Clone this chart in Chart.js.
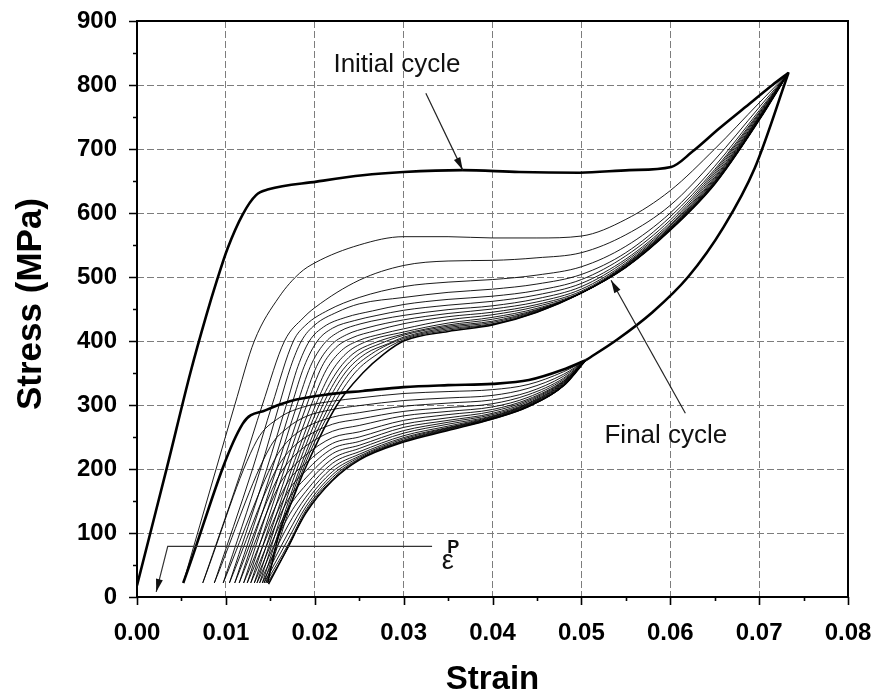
<!DOCTYPE html>
<html>
<head>
<meta charset="utf-8">
<script src="https://cdn.jsdelivr.net/npm/chart.js@4.4.1/dist/chart.umd.min.js"></script>
<style>
  html, body { margin: 0; padding: 0; background: #fff; }
  canvas { display: block; }
</style>
</head>
<body>
<canvas id="chart" width="875" height="695"></canvas>
<script>
// Cyclic superelastic stress-strain response: strain (-), stress (MPa)

const xTickValues = [0, 0.01, 0.02, 0.03, 0.04, 0.05, 0.06, 0.07, 0.08];
const yTickValues = [0, 100, 200, 300, 400, 500, 600, 700, 800, 900];

// First cycle: loading branch and lower (reverse transformation) branch
const initialLoading = [
  [0.0000, 18], [0.0015, 100], [0.0034, 204], [0.0060, 350], [0.0078, 440],
  [0.0090, 495], [0.0102, 545], [0.0119, 598], [0.0134, 628], [0.0148, 637],
  [0.0202, 649], [0.0254, 659], [0.0300, 664], [0.0366, 667], [0.0430, 664],
  [0.0498, 663], [0.0554, 667], [0.0601, 672], [0.0625, 696], [0.0655, 732],
  [0.0685, 766], [0.0715, 800], [0.0733, 819]
];
const initialUnloading = [
  [0.0052, 22], [0.0119, 271], [0.0145, 292], [0.0172, 306], [0.0217, 317],
  [0.0254, 322], [0.0300, 328], [0.0350, 331], [0.0400, 333], [0.0441, 339],
  [0.0479, 355], [0.0505, 370]
];
// Upper part of the unloading path, common to every cycle
const sharedUnloading = [
  [0.0505, 370], [0.0540, 402], [0.0580, 445], [0.0620, 500], [0.0660, 578],
  [0.0695, 670], [0.0733, 819]
];

// Loading branches of cycles 2 .. last
const loadingCycles = [
  [[0.0052,22],[0.0089,200],[0.0110,300],[0.0132,400],[0.0160,469],[0.0183,506],[0.0200,522],[0.0250,550],[0.0300,563],[0.0350,563],[0.0400,561],[0.0450,561],[0.0500,564],[0.0550,590],[0.0600,635],[0.0650,700],[0.0700,772],[0.0733,819]],
  [[0.0074,22],[0.0118,200],[0.0141,300],[0.0166,400],[0.0187,436],[0.0200,452],[0.0250,495],[0.0300,518],[0.0350,525],[0.0400,526],[0.0450,530],[0.0500,538],[0.0550,566],[0.0600,612],[0.0650,683],[0.0700,765],[0.0733,819]],
  [[0.0087,22],[0.0130,200],[0.0152,300],[0.0176,400],[0.0190,425],[0.0215,448],[0.0250,468],[0.0300,485],[0.0350,492],[0.0400,496],[0.0450,503],[0.0500,516],[0.0550,548],[0.0600,600],[0.0650,673],[0.0700,760],[0.0733,819]],
  [[0.0097,22],[0.0139,200],[0.0160,300],[0.0173,360],[0.0185,400],[0.0200,425],[0.0225,445],[0.0250,458],[0.0300,468],[0.0350,476],[0.0400,481],[0.0450,489],[0.0500,504],[0.0550,538],[0.0600,594],[0.0650,668],[0.0700,757],[0.0733,819]],
  [[0.0104,22],[0.0146,200],[0.0168,300],[0.0181,360],[0.0194,400],[0.0210,422],[0.0235,437],[0.0265,447],[0.0300,457],[0.0350,465],[0.0400,470],[0.0450,479],[0.0500,496],[0.0550,533],[0.0600,589],[0.0650,665],[0.0700,755],[0.0733,819]],
  [[0.0110,22],[0.0152,200],[0.0174,300],[0.0188,360],[0.0203,400],[0.0220,420],[0.0245,432],[0.0270,440],[0.0300,448],[0.0350,456],[0.0400,462],[0.0450,472],[0.0500,490],[0.0550,528],[0.0600,585],[0.0650,662],[0.0700,753],[0.0733,819]],
  [[0.0115,22],[0.0157,200],[0.0180,300],[0.0195,360],[0.0210,395],[0.0228,415],[0.0252,427],[0.0275,434],[0.0300,440],[0.0350,449],[0.0400,455],[0.0450,466],[0.0500,485],[0.0550,525],[0.0600,582],[0.0650,659],[0.0700,751],[0.0733,819]],
  [[0.0120,22],[0.0162,200],[0.0186,300],[0.0202,360],[0.0218,393],[0.0236,410],[0.0260,421],[0.0300,433],[0.0350,443],[0.0400,450],[0.0450,461],[0.0500,481],[0.0550,522],[0.0600,580],[0.0650,656],[0.0700,750],[0.0733,819]],
  [[0.0124,22],[0.0166,200],[0.0191,300],[0.0208,360],[0.0224,390],[0.0242,405],[0.0268,416],[0.0300,427],[0.0350,438],[0.0400,445],[0.0450,457],[0.0500,478],[0.0550,520],[0.0600,578],[0.0650,654],[0.0700,749],[0.0733,819]],
  [[0.0128,22],[0.0170,200],[0.0196,300],[0.0213,355],[0.0230,385],[0.0250,401],[0.0275,411],[0.0300,419],[0.0350,433],[0.0400,441],[0.0450,454],[0.0500,476],[0.0550,519],[0.0600,577],[0.0650,652],[0.0700,748],[0.0733,819]],
  [[0.0132,22],[0.0174,200],[0.0201,300],[0.0218,350],[0.0235,380],[0.0256,398],[0.0300,414],[0.0350,428],[0.0400,437],[0.0450,451],[0.0500,475],[0.0550,518],[0.0600,576],[0.0650,650],[0.0700,747],[0.0733,819]],
  [[0.0135,22],[0.0177,200],[0.0205,300],[0.0224,350],[0.0243,380],[0.0265,396],[0.0300,411],[0.0350,425],[0.0400,434],[0.0450,449],[0.0500,475],[0.0550,517],[0.0600,575],[0.0650,649],[0.0700,747],[0.0733,819]],
  [[0.0138,22],[0.0180,200],[0.0209,300],[0.0229,350],[0.0250,380],[0.0274,396],[0.0300,409],[0.0350,423],[0.0400,431],[0.0450,448],[0.0500,475],[0.0550,516],[0.0600,575],[0.0650,648],[0.0700,746],[0.0733,819]],
  [[0.0141,22],[0.0183,200],[0.0213,300],[0.0234,350],[0.0257,380],[0.0283,396],[0.0300,406],[0.0350,421],[0.0400,429],[0.0450,447],[0.0500,475],[0.0550,516],[0.0600,574],[0.0650,647],[0.0700,746],[0.0733,819]],
  [[0.0143,22],[0.0185,200],[0.0217,300],[0.0239,350],[0.0264,380],[0.0300,404],[0.0350,419],[0.0400,427],[0.0450,446],[0.0500,475],[0.0550,515],[0.0600,574],[0.0650,646],[0.0700,745],[0.0733,819]],
  [[0.0145,22],[0.0187,200],[0.0221,300],[0.0245,350],[0.0271,380],[0.0300,402],[0.0350,417],[0.0400,426],[0.0450,445],[0.0500,475],[0.0550,515],[0.0600,573],[0.0650,645],[0.0700,745],[0.0733,819]],
  [[0.0147,22],[0.0160,100],[0.0175,152],[0.0189,200],[0.0225,300],[0.0254,350],[0.0278,380],[0.0300,400],[0.0350,415],[0.0400,425],[0.0450,445],[0.0500,475],[0.0550,515],[0.0600,573],[0.0650,645],[0.0700,745],[0.0733,819]]
];

// Lower branches of cycles 2 .. last, from the residual strain up to the merge point
const unloadingCycles = [
  [[0.0074,22],[0.0135,245],[0.0160,280],[0.0190,298],[0.0220,306],[0.0250,311],[0.0300,318],[0.0350,321],[0.0400,324],[0.0440,332],[0.0480,352],[0.0505,370]],
  [[0.0087,22],[0.0150,235],[0.0170,265],[0.0190,282],[0.0220,293],[0.0250,299],[0.0300,307],[0.0350,311],[0.0400,315],[0.0440,326],[0.0480,348],[0.0505,370]],
  [[0.0097,22],[0.0155,215],[0.0170,244],[0.0190,265],[0.0220,281],[0.0250,288],[0.0300,298],[0.0350,303],[0.0400,308],[0.0440,320],[0.0480,345],[0.0505,370]],
  [[0.0104,22],[0.0155,195],[0.0170,226],[0.0190,250],[0.0220,270],[0.0250,278],[0.0300,290],[0.0350,296],[0.0400,302],[0.0440,316],[0.0480,342],[0.0505,370]],
  [[0.0110,22],[0.0158,185],[0.0170,210],[0.0190,236],[0.0220,259],[0.0250,268],[0.0300,283],[0.0350,290],[0.0400,297],[0.0440,312],[0.0480,340],[0.0505,370]],
  [[0.0115,22],[0.0160,175],[0.0170,195],[0.0190,222],[0.0220,249],[0.0250,258],[0.0300,276],[0.0350,285],[0.0400,293],[0.0440,309],[0.0480,338],[0.0505,370]],
  [[0.0120,22],[0.0170,180],[0.0190,209],[0.0220,240],[0.0250,250],[0.0300,270],[0.0350,280],[0.0400,290],[0.0440,307],[0.0480,337],[0.0505,370]],
  [[0.0124,22],[0.0170,165],[0.0190,197],[0.0220,232],[0.0250,243],[0.0300,265],[0.0350,276],[0.0400,287],[0.0440,305],[0.0480,336],[0.0505,370]],
  [[0.0128,22],[0.0170,152],[0.0190,186],[0.0220,224],[0.0250,237],[0.0300,260],[0.0350,273],[0.0400,285],[0.0440,303],[0.0480,335],[0.0505,370]],
  [[0.0132,22],[0.0170,138],[0.0190,175],[0.0220,216],[0.0250,232],[0.0300,256],[0.0350,270],[0.0400,283],[0.0440,302],[0.0480,334],[0.0505,370]],
  [[0.0135,22],[0.0170,125],[0.0190,165],[0.0220,209],[0.0250,227],[0.0300,252],[0.0350,267],[0.0400,282],[0.0440,301],[0.0480,333],[0.0505,370]],
  [[0.0138,22],[0.0170,112],[0.0190,156],[0.0220,202],[0.0250,223],[0.0300,249],[0.0350,265],[0.0400,281],[0.0440,300],[0.0480,332],[0.0505,370]],
  [[0.0141,22],[0.0170,100],[0.0190,148],[0.0220,196],[0.0250,220],[0.0300,247],[0.0350,264],[0.0400,280],[0.0440,299],[0.0480,331],[0.0505,370]],
  [[0.0143,22],[0.0170,90],[0.0190,141],[0.0220,191],[0.0250,218],[0.0300,245],[0.0350,263],[0.0400,279],[0.0440,298],[0.0480,331],[0.0505,370]],
  [[0.0145,22],[0.0170,82],[0.0190,136],[0.0220,187],[0.0250,216],[0.0300,244],[0.0350,262],[0.0400,279],[0.0440,298],[0.0480,330],[0.0505,370]],
  [[0.0147,22],[0.0170,77],[0.0190,133],[0.0220,184],[0.0250,215],[0.0300,243],[0.0350,261],[0.0400,278],[0.0440,297],[0.0480,330],[0.0505,370]],
  [[0.0148,20],[0.0168,73],[0.0190,131],[0.0220,182],[0.0250,214],[0.0300,242],[0.0350,260],[0.0400,278],[0.0440,297],[0.0480,330],[0.0505,370]]
];

// Annotation anchors (strain, stress)
const initialArrow = [[0.0325, 787], [0.03665, 667]];
const finalArrow = [[0.0617, 287], [0.05334, 495]];
const residualMarker = [[0.0332, 79], [0.00346, 79], [0.00216, 8]];

const FONT = '"Liberation Sans", Arial, Helvetica, sans-serif';

function curve(points, width) {
  return {
    data: points.map(([x, y]) => ({ x, y })),
    showLine: true,
    borderColor: '#000',
    borderWidth: width,
    pointRadius: 0,
    pointHoverRadius: 0,
    fill: false,
    cubicInterpolationMode: 'monotone'
  };
}

const datasets = [];
const last = loadingCycles.length - 1;
unloadingCycles.forEach((c, i) => datasets.push(curve(c, i === last ? 1.5 : 0.9)));
loadingCycles.forEach((c, i) => datasets.push(curve(c, i === last ? 1.5 : 0.9)));
datasets.push(curve(initialLoading, 2.6));
datasets.push(curve(initialUnloading, 2.6));
datasets.push(curve(sharedUnloading, 2.6));

function arrowHead(ctx, x0, y0, x1, y1, len, half) {
  const a = Math.atan2(y1 - y0, x1 - x0);
  ctx.beginPath();
  ctx.moveTo(x1, y1);
  ctx.lineTo(x1 - len * Math.cos(a) + half * Math.sin(a), y1 - len * Math.sin(a) - half * Math.cos(a));
  ctx.lineTo(x1 - len * Math.cos(a) - half * Math.sin(a), y1 - len * Math.sin(a) + half * Math.cos(a));
  ctx.closePath();
  ctx.fill();
}

const framePlugin = {
  id: 'frame',
  afterDraw(chart) {
    const { ctx, chartArea: a, scales: { x, y } } = chart;
    const px = v => x.getPixelForValue(v);
    const py = v => y.getPixelForValue(v);
    ctx.save();
    ctx.strokeStyle = '#000';
    ctx.fillStyle = '#000';

    // frame
    ctx.lineWidth = 2;
    ctx.strokeRect(a.left, a.top, a.right - a.left, a.bottom - a.top);

    // outward ticks, major and minor
    ctx.lineWidth = 1.6;
    ctx.beginPath();
    for (let i = 0; i <= 16; i++) {
      const xx = Math.round(px(i * 0.005)) + 0.5;
      ctx.moveTo(xx, a.bottom);
      ctx.lineTo(xx, a.bottom + (i % 2 === 0 ? 8 : 4));
    }
    for (let i = 0; i <= 18; i++) {
      const yy = Math.round(py(i * 50)) + 0.5;
      ctx.moveTo(a.left, yy);
      ctx.lineTo(a.left - (i % 2 === 0 ? 8 : 4), yy);
    }
    ctx.stroke();

    // axis titles
    ctx.font = 'bold 33px ' + FONT;
    ctx.textAlign = 'center';
    ctx.textBaseline = 'alphabetic';
    ctx.fillText('Strain', (a.left + a.right) / 2, 689);
    ctx.save();
    ctx.translate(41, 304);
    ctx.rotate(-Math.PI / 2);
    ctx.font = 'bold 35px ' + FONT;
    ctx.fillText('Stress (MPa)', 0, 0);
    ctx.restore();

    // annotations
    ctx.lineWidth = 1.2;
    ctx.strokeStyle = '#222';
    ctx.fillStyle = '#111';
    [initialArrow, finalArrow].forEach(([p0, p1]) => {
      const x0 = px(p0[0]), y0 = py(p0[1]), x1 = px(p1[0]), y1 = py(p1[1]);
      ctx.beginPath();
      ctx.moveTo(x0, y0);
      ctx.lineTo(x1, y1);
      ctx.stroke();
      arrowHead(ctx, x0, y0, x1, y1, 13, 3.5);
    });

    ctx.strokeStyle = '#333';
    ctx.beginPath();
    ctx.moveTo(px(residualMarker[0][0]), py(residualMarker[0][1]));
    ctx.lineTo(px(residualMarker[1][0]), py(residualMarker[1][1]));
    ctx.lineTo(px(residualMarker[2][0]), py(residualMarker[2][1]));
    ctx.stroke();
    arrowHead(ctx, px(residualMarker[1][0]), py(residualMarker[1][1]),
      px(residualMarker[2][0]), py(residualMarker[2][1]), 13, 3.5);

    ctx.fillStyle = '#111';
    ctx.textAlign = 'left';
    ctx.font = '26px ' + FONT;
    ctx.fillText('Initial cycle', px(0.0221), py(820));
    ctx.fillText('Final cycle', px(0.0526), py(241));
    ctx.font = '27px ' + FONT;
    ctx.fillText('ε', px(0.0343), py(43));
    ctx.font = 'bold 18px ' + FONT;
    ctx.fillText('P', px(0.0349), py(69));
    ctx.restore();
  }
};

new Chart(document.getElementById('chart'), {
  type: 'scatter',
  data: { datasets },
  options: {
    responsive: false,
    animation: false,
    devicePixelRatio: 1,
    layout: { padding: { top: 21, right: 27, left: 0, bottom: 0 } },
    plugins: { legend: { display: false }, tooltip: { enabled: false } },
    events: [],
    scales: {
      x: {
        type: 'linear',
        min: 0,
        max: 0.08,
        afterFit: s => { s.height = 98; s.paddingLeft = 0; s.paddingRight = 0; },
        afterBuildTicks: s => { s.ticks = xTickValues.map(v => ({ value: v })); },
        ticks: {
          callback: v => v.toFixed(2),
          font: { family: FONT, size: 24, weight: 'bold' },
          color: '#000',
          padding: 22,
          maxRotation: 0,
          autoSkip: false
        },
        grid: { color: '#7d7d7d', lineWidth: 1, drawTicks: false },
        border: { display: false, dash: [7, 3] }
      },
      y: {
        type: 'linear',
        min: 0,
        max: 900,
        afterFit: s => { s.width = 137; s.paddingTop = 0; s.paddingBottom = 0; },
        afterBuildTicks: s => { s.ticks = yTickValues.map(v => ({ value: v })); },
        ticks: {
          callback: v => String(v),
          font: { family: FONT, size: 24, weight: 'bold' },
          color: '#000',
          padding: 20,
          autoSkip: false
        },
        grid: { color: '#7d7d7d', lineWidth: 1, drawTicks: false },
        border: { display: false, dash: [7, 3] }
      }
    }
  },
  plugins: [framePlugin]
});
</script>
</body>
</html>
